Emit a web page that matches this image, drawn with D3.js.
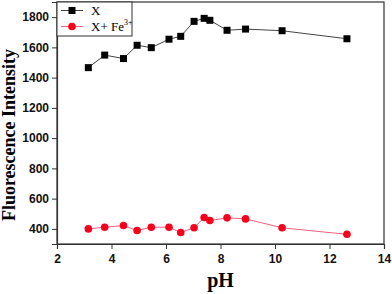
<!DOCTYPE html>
<html>
<head>
<meta charset="utf-8">
<script src="https://cdn.jsdelivr.net/npm/d3@7"></script>
<style>
  body { margin: 0; background: #fff; }
  svg { display: block; font-family: "Liberation Serif", "Times New Roman", serif; }
</style>
</head>
<body>
<div id="chart"></div>
<script>
// pH values shared by both series
const phValues = [3.15, 3.75, 4.44, 4.94, 5.46, 6.11, 6.54, 7.03, 7.40, 7.61, 8.24, 8.92, 10.26, 12.64];
// Fluorescence intensity of X alone
const xIntensity = [1466, 1549, 1526, 1614, 1598, 1654, 1673, 1772, 1792, 1779, 1713, 1721, 1710, 1657];
// Fluorescence intensity of X + Fe3+
const xFeIntensity = [400, 411, 422, 389, 411, 411, 376, 407, 475, 455, 473, 466, 407, 364];
const xTicks = [2, 4, 6, 8, 10, 12, 14];
const yTicks = [400, 600, 800, 1000, 1200, 1400, 1600, 1800];

const width = 392, height = 294;
const margin = { top: 2, right: 8, bottom: 50, left: 57 };

const svg = d3.select("#chart").append("svg")
    .attr("width", width)
    .attr("height", height);

const x = d3.scaleLinear().domain([2, 14]).range([margin.left, width - margin.right]);
const y = d3.scaleLinear().domain([300, 1900]).range([height - margin.bottom, margin.top]);

const axisColor = "#333";

// frame
svg.append("rect")
    .attr("x", x(2)).attr("y", y(1900))
    .attr("width", x(14) - x(2)).attr("height", y(300) - y(1900))
    .attr("fill", "none").attr("stroke", axisColor).attr("stroke-width", 1.2);

// x axis with minor ticks
const xAxis = svg.append("g").attr("transform", `translate(0,${y(300)})`);
xAxis.call(d3.axisBottom(x).tickValues(d3.range(3, 14, 2)).tickSize(3).tickFormat(""));
xAxis.call(d3.axisBottom(x).tickValues(xTicks).tickSize(5).tickFormat(d3.format("d")));
xAxis.selectAll(".domain").attr("stroke", axisColor).attr("stroke-width", 1.2);
xAxis.selectAll("line").attr("stroke", axisColor);
xAxis.selectAll("text").attr("font-size", 12).attr("font-weight", "bold").attr("fill", "#111").attr("dy", "0.9em");

// y axis with minor ticks
const yAxis = svg.append("g").attr("transform", `translate(${x(2)},0)`);
yAxis.call(d3.axisLeft(y).tickValues(d3.range(300, 1901, 200)).tickSize(3).tickFormat(""));
yAxis.call(d3.axisLeft(y).tickValues(yTicks).tickSize(5).tickFormat(d3.format("d")));
yAxis.selectAll(".domain").attr("stroke", axisColor).attr("stroke-width", 1.2);
yAxis.selectAll("line").attr("stroke", axisColor);
yAxis.selectAll("text").attr("font-size", 12).attr("font-weight", "bold").attr("fill", "#111");

// axis titles
svg.append("text")
    .attr("x", (x(2) + x(14)) / 2)
    .attr("y", 287)
    .attr("text-anchor", "middle")
    .attr("font-size", 20).attr("font-weight", "bold")
    .text("pH");

svg.append("text")
    .attr("transform", "translate(15,135) rotate(-90)")
    .attr("text-anchor", "middle")
    .attr("font-size", 18).attr("font-weight", "bold")
    .text("Fluorescence Intensity");

const line = d3.line().x(d => x(d[0])).y(d => y(d[1]));

// X series
const blackData = phValues.map((p, i) => [p, xIntensity[i]]);
svg.append("path")
    .datum(blackData)
    .attr("d", line)
    .attr("fill", "none").attr("stroke", "#444").attr("stroke-width", 1);
svg.append("g").selectAll("rect")
    .data(blackData)
    .enter().append("rect")
    .attr("x", d => x(d[0]) - 3.5).attr("y", d => y(d[1]) - 3.5)
    .attr("width", 7).attr("height", 7)
    .attr("fill", "#000");

// X + Fe3+ series
const redData = phValues.map((p, i) => [p, xFeIntensity[i]]);
svg.append("path")
    .datum(redData)
    .attr("d", line)
    .attr("fill", "none").attr("stroke", "#f2617f").attr("stroke-width", 1);
svg.append("g").selectAll("circle")
    .data(redData)
    .enter().append("circle")
    .attr("cx", d => x(d[0])).attr("cy", d => y(d[1]))
    .attr("r", 3.8)
    .attr("fill", "#f7001c");

// legend
const legend = svg.append("g");
legend.append("rect")
    .attr("x", x(2)).attr("y", y(1900))
    .attr("width", 75).attr("height", 34)
    .attr("fill", "#fff").attr("stroke", axisColor).attr("stroke-width", 1);

const rows = [
    { label: "X", color: "#444", mark: "rect", cy: 10.5 },
    { label: "X+ Fe", sup: "3+", color: "#f2617f", mark: "circle", cy: 26.5 }
];
rows.forEach(r => {
    legend.append("line")
        .attr("x1", 61).attr("x2", 83).attr("y1", r.cy).attr("y2", r.cy)
        .attr("stroke", r.color).attr("stroke-width", 1);
    if (r.mark === "rect") {
        legend.append("rect").attr("x", 68.5).attr("y", r.cy - 3.5)
            .attr("width", 7).attr("height", 7).attr("fill", "#000");
    } else {
        legend.append("circle").attr("cx", 72).attr("cy", r.cy).attr("r", 3.8).attr("fill", "#f7001c");
    }
    const t = legend.append("text")
        .attr("x", 91).attr("y", r.cy + 4.5)
        .attr("font-size", 13)
        .text(r.label);
    if (r.sup) {
        t.append("tspan").attr("font-size", 8).attr("dy", -6).text(r.sup);
    }
});
</script>
</body>
</html>
